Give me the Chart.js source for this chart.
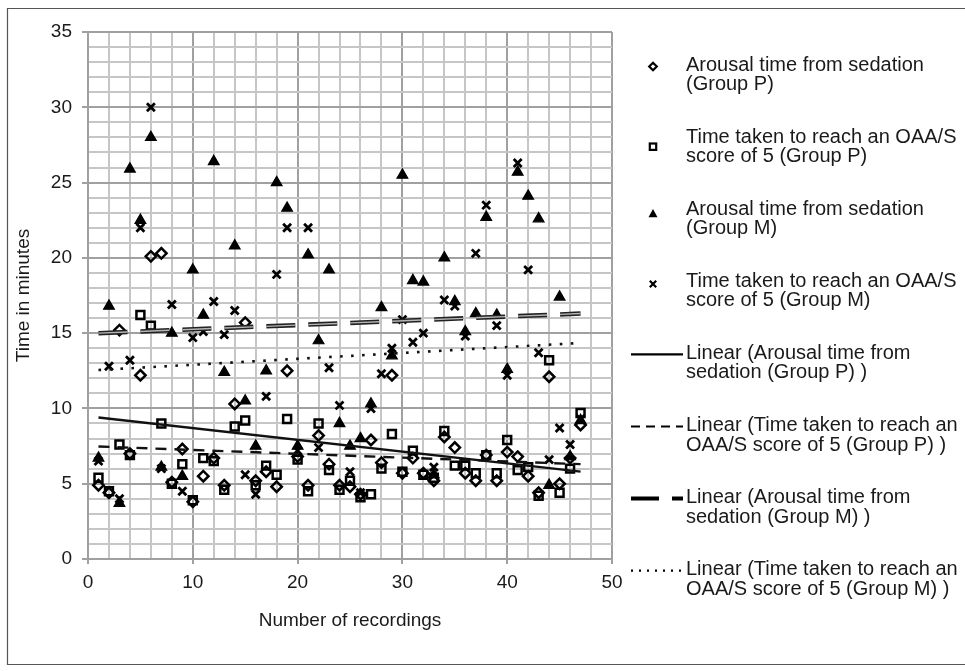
<!DOCTYPE html>
<html>
<head>
<meta charset="utf-8">
<script src="https://cdn.jsdelivr.net/npm/chart.js@4/dist/chart.umd.min.js"></script>
<style>
html,body{margin:0;padding:0;background:#fff;}
#wrap{position:relative;width:965px;height:671px;}
</style>
</head>
<body>
<div id="wrap"><canvas id="c" width="965" height="671"></canvas></div>
<script>
// ---- data ----
const recordings = [1,2,3,4,5,6,7,8,9,10,11,12,13,14,15,16,17,18,19,20,21,22,23,24,25,26,27,28,29,30,31,32,33,34,35,36,37,38,39,40,41,42,43,44,45,46,47];
const arousalP = [4.9,4.4,15.2,7.0,12.2,20.1,20.3,5.1,7.3,3.8,5.5,6.7,4.9,10.3,15.7,5.2,5.8,4.8,12.5,6.8,4.9,8.2,6.3,4.9,4.8,4.3,7.9,6.4,12.2,5.7,6.7,5.7,5.2,8.1,7.4,5.7,5.2,6.9,5.2,7.1,6.8,5.5,4.4,12.1,5.0,6.7,8.9];
const oaasP = [5.4,4.5,7.6,6.9,16.2,15.5,9.0,5.0,6.3,3.9,6.7,6.5,4.6,8.8,9.2,4.9,6.2,5.6,9.3,6.6,4.5,9.0,5.9,4.6,5.2,4.1,4.3,6.0,8.3,5.8,7.2,5.6,5.4,8.5,6.2,6.2,5.7,6.9,5.7,7.9,5.9,6.1,4.2,13.2,4.4,6.0,9.7];
const arousalM = [6.7,16.8,3.7,25.9,22.5,28.0,6.1,15.0,5.5,19.2,16.2,26.4,12.4,20.8,10.5,7.5,12.5,25.0,23.3,7.5,20.2,14.5,19.2,9.0,7.5,8.0,10.3,16.7,13.5,25.5,18.5,18.4,5.6,20.0,17.1,15.1,16.3,22.7,16.2,12.6,25.7,24.1,22.6,4.9,17.4,6.8,9.2];
const oaasM = [6.5,12.8,4.0,13.2,22.0,30.0,6.0,16.9,4.5,14.7,15.1,17.1,14.9,16.5,5.6,4.3,10.8,18.9,22.0,7.2,22.0,7.4,12.7,10.2,5.8,4.4,10.0,12.3,14.0,15.9,14.4,15.0,6.1,17.2,16.8,14.8,20.3,23.5,15.5,12.2,26.3,19.2,13.7,6.6,8.7,7.6,9.3];
// linear trend lines (end points)
const trendX = [1, 47];
const trendArousalP = [9.4, 5.8];
const trendOaasP = [7.47, 6.3];
const trendArousalM = [15.0, 16.3];
const trendOaasM = [12.55, 14.35];
// axes
const yMajorTicks = [0,5,10,15,20,25,30,35];
const xMajorTicks = [0,10,20,30,40,50];
const legendLabels = [
  ['Arousal time from sedation', '(Group P)'],
  ['Time taken to reach an OAA/S', 'score of 5 (Group P)'],
  ['Arousal time from sedation', '(Group M)'],
  ['Time taken to reach an OAA/S', 'score of 5 (Group M)'],
  ['Linear (Arousal time from', 'sedation (Group P) )'],
  ['Linear (Time taken to reach an', 'OAA/S score of 5 (Group P) )'],
  ['Linear (Arousal time from', 'sedation (Group M) )'],
  ['Linear (Time taken to reach an', 'OAA/S score of 5 (Group M) )']
];

const FONT = '"Liberation Sans", Arial, sans-serif';
Chart.defaults.font.family = FONT;
Chart.defaults.color = '#1a1a1a';

const pts = arr => arr.map((v, i) => ({x: recordings[i], y: v}));
const tpts = arr => arr.map((v, i) => ({x: trendX[i], y: v}));

const MAJ = '#a0a0a0', MIN = '#c6c6c6';

const legendPlugin = {
  id: 'customLegend',
  afterDraw(chart) {
    const ctx = chart.ctx;
    ctx.save();
    // outer frame
    ctx.strokeStyle = '#555';
    ctx.lineWidth = 1.2;
    ctx.beginPath();
    ctx.moveTo(990, 8.5); ctx.lineTo(7.5, 8.5); ctx.lineTo(7.5, 664.5); ctx.lineTo(990, 664.5);
    ctx.stroke();

    ctx.font = '20px ' + FONT;
    ctx.fillStyle = '#1a1a1a';
    ctx.textBaseline = 'middle';
    ctx.textAlign = 'left';
    const tx = 686;
    legendLabels.forEach((lines, i) => {
      const y = 65 + 72.1 * i;
      ctx.fillText(lines[0], tx, y);
      ctx.fillText(lines[1], tx, y + 19.5);
    });
    const mx = 653;
    ctx.strokeStyle = '#000';
    ctx.fillStyle = '#000';
    ctx.lineWidth = 2.2;
    // diamond
    let y = 66.5;
    ctx.beginPath(); ctx.moveTo(mx-3.8,y); ctx.lineTo(mx,y-3.8); ctx.lineTo(mx+3.8,y); ctx.lineTo(mx,y+3.8); ctx.closePath(); ctx.stroke();
    // square
    y = 146.7;
    ctx.strokeRect(mx-3.2, y-3.2, 6.4, 6.4);
    // triangle
    y = 214;
    ctx.beginPath(); ctx.moveTo(mx, y-5); ctx.lineTo(mx+4.5, y+3.2); ctx.lineTo(mx-4.5, y+3.2); ctx.closePath(); ctx.fill();
    // cross
    y = 284;
    ctx.beginPath(); ctx.moveTo(mx-3.2,y-3.2); ctx.lineTo(mx+3.2,y+3.2); ctx.moveTo(mx+3.2,y-3.2); ctx.lineTo(mx-3.2,y+3.2); ctx.stroke();
    // line samples
    const x0 = 631, x1 = 683;
    const ls = (yy, dash, w) => { ctx.setLineDash(dash); ctx.lineWidth = w; ctx.beginPath(); ctx.moveTo(x0, yy); ctx.lineTo(x1, yy); ctx.stroke(); };
    ls(65 + 72.1*4 + 1, [], 2.2);
    ls(65 + 72.1*5 + 1, [9, 6], 2.2);
    ls(65 + 72.1*6 + 1, [28, 13], 4);
    ls(65 + 72.1*7 + 1, [2, 6], 2.2);
    ctx.restore();
  }
};

new Chart(document.getElementById('c'), {
  type: 'scatter',
  data: {
    datasets: [
      { label: 'Arousal time from sedation (Group P)', data: pts(arousalP), pointStyle: 'rectRot', pointRadius: 5.2, borderColor: '#000', backgroundColor: 'rgba(0,0,0,0)', pointBorderWidth: 2.5, order: 3 },
      { label: 'Time taken to reach an OAA/S score of 5 (Group P)', data: pts(oaasP), pointStyle: 'rect', pointRadius: 5.6, borderColor: '#000', backgroundColor: 'rgba(0,0,0,0)', pointBorderWidth: 2.5, order: 3 },
      { label: 'Arousal time from sedation (Group M)', data: pts(arousalM), pointStyle: 'triangle', pointRadius: 6.2, borderColor: '#000', backgroundColor: '#000', pointBorderWidth: 1.2, order: 3 },
      { label: 'Time taken to reach an OAA/S score of 5 (Group M)', data: pts(oaasM), pointStyle: 'crossRot', pointRadius: 5.6, borderColor: '#000', backgroundColor: '#000', pointBorderWidth: 2.8, order: 3 },
      { label: 'Linear (Arousal time from sedation (Group P) )', data: tpts(trendArousalP), showLine: true, pointRadius: 0, borderColor: '#111', borderWidth: 2.4, order: 1 },
      { label: 'Linear (Time taken to reach an OAA/S score of 5 (Group P) )', data: tpts(trendOaasP), showLine: true, pointRadius: 0, borderColor: '#111', borderWidth: 2.4, borderDash: [11, 8], order: 1 },
      { label: 'Linear (Arousal time from sedation (Group M) )', data: tpts(trendArousalM), showLine: true, pointRadius: 0, borderColor: '#222', borderWidth: 4.5, borderDash: [29, 13], borderCapStyle: 'butt', order: 1 },
      { label: '', data: tpts(trendArousalM), showLine: true, pointRadius: 0, borderColor: '#b5b5b5', borderWidth: 1.4, borderDash: [29, 13], borderCapStyle: 'butt', order: 0 },
      { label: 'Linear (Time taken to reach an OAA/S score of 5 (Group M) )', data: tpts(trendOaasM), showLine: true, pointRadius: 0, borderColor: '#111', borderWidth: 2.6, borderDash: [2.6, 8.4], order: 1 }
    ]
  },
  options: {
    responsive: false,
    animation: false,
    devicePixelRatio: 1,
    layout: { padding: { left: 0, top: 32, right: 353, bottom: 0 } },
    plugins: { legend: { display: false }, tooltip: { enabled: false } },
    scales: {
      x: {
        type: 'linear', min: 0, max: 50,
        afterBuildTicks: s => { s.ticks = Array.from({length: 26}, (_, i) => ({value: i * 2})); },
        ticks: { autoSkip: false, maxRotation: 0, padding: 7, font: { size: 19 }, color: '#1a1a1a',
          callback: v => xMajorTicks.includes(v) ? String(v) : '' },
        grid: { lineWidth: 2, tickLength: 5,
          color: c => (c.tick && xMajorTicks.includes(c.tick.value)) ? MAJ : MIN,
          tickColor: c => (c.tick && xMajorTicks.includes(c.tick.value)) ? MAJ : 'rgba(0,0,0,0)' },
        border: { color: MAJ, width: 2 },
        title: { display: true, text: 'Number of recordings', font: { size: 19 }, color: '#1a1a1a', padding: { top: 0, bottom: 39 } },
        afterFit: s => { s.height = 112; }
      },
      y: {
        min: 0, max: 35,
        afterBuildTicks: s => { s.ticks = Array.from({length: 36}, (_, i) => ({value: i})); },
        ticks: { autoSkip: false, padding: 10, font: { size: 19 }, color: '#1a1a1a',
          callback: v => yMajorTicks.includes(v) ? String(v) : '' },
        grid: { lineWidth: 2, tickLength: 6,
          color: c => (c.tick && yMajorTicks.includes(c.tick.value)) ? MAJ : MIN,
          tickColor: c => (c.tick && yMajorTicks.includes(c.tick.value)) ? MAJ : 'rgba(0,0,0,0)' },
        border: { color: MAJ, width: 2 },
        title: { display: true, text: 'Time in minutes', font: { size: 19 }, color: '#1a1a1a', padding: { top: 12, bottom: 0 } },
        afterFit: s => { s.width = 88; }
      }
    }
  },
  plugins: [legendPlugin]
});
</script>
</body>
</html>
